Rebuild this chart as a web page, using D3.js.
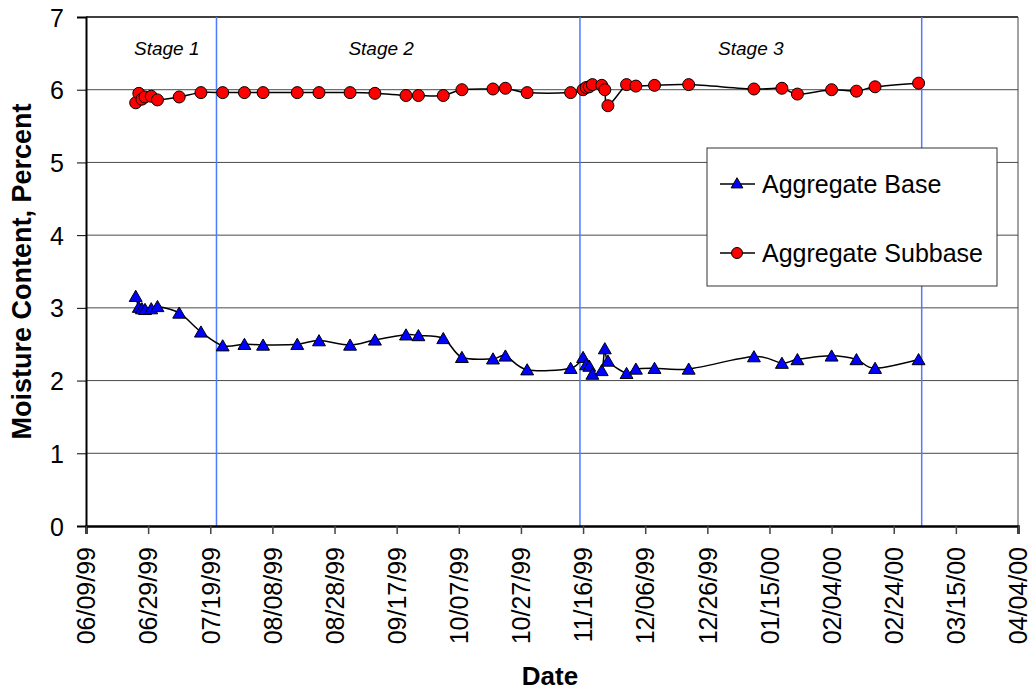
<!DOCTYPE html>
<html>
<head>
<meta charset="utf-8">
<script src="https://cdn.jsdelivr.net/npm/d3@7"></script>
<style>
  body { margin: 0; background: #fff; }
  svg { font-family: "Liberation Sans", Arial, sans-serif; }
</style>
</head>
<body>
<div id="chart"></div>
<script>
// Moisture content of base / subbase layers over three construction stages
const sampleDates = [
  "06/25/99", "06/26/99", "06/27/99", "06/28/99", "06/30/99", "07/02/99", "07/09/99", "07/16/99",
  "07/23/99", "07/30/99", "08/05/99", "08/16/99", "08/23/99", "09/02/99", "09/10/99", "09/20/99",
  "09/24/99", "10/02/99", "10/08/99", "10/18/99", "10/22/99", "10/29/99", "11/12/99", "11/16/99",
  "11/17/99", "11/18/99", "11/19/99", "11/22/99", "11/23/99", "11/24/99", "11/30/99", "12/03/99",
  "12/09/99", "12/20/99", "01/10/00", "01/19/00", "01/24/00", "02/04/00", "02/12/00", "02/18/00",
  "03/03/00"
];
const baseValues = [
  3.16, 3.01, 2.99, 2.98, 2.99, 3.02, 2.93, 2.67, 2.48, 2.50, 2.49, 2.50, 2.55, 2.49, 2.56, 2.63,
  2.62, 2.58, 2.32, 2.30, 2.34, 2.15, 2.17, 2.32, 2.22, 2.20, 2.09, 2.14, 2.44, 2.27, 2.10, 2.16,
  2.17, 2.16, 2.33, 2.24, 2.29, 2.34, 2.29, 2.17, 2.29
];
const subbaseValues = [
  5.82, 5.95, 5.87, 5.90, 5.91, 5.86, 5.90, 5.96, 5.96, 5.96, 5.96, 5.96, 5.96, 5.96, 5.95, 5.92,
  5.92, 5.92, 6.00, 6.01, 6.02, 5.96, 5.96, 6.00, 6.03, 6.04, 6.07, 6.06, 6.00, 5.78, 6.07, 6.05,
  6.06, 6.07, 6.01, 6.02, 5.94, 6.00, 5.98, 6.04, 6.09
];
const seriesNames = ["Aggregate Base", "Aggregate Subbase"];
const stageBoundaries = ["07/21/99", "11/15/99", "03/04/00"];
const stageLabels = ["Stage 1", "Stage 2", "Stage 3"];
const stageLabelDates = ["07/05/99", "09/12/99", "01/09/00"];
const xTickLabels = [
  "06/09/99", "06/29/99", "07/19/99", "08/08/99", "08/28/99", "09/17/99", "10/07/99",
  "10/27/99", "11/16/99", "12/06/99", "12/26/99", "01/15/00", "02/04/00", "02/24/00",
  "03/15/00", "04/04/00"
];
const yTicks = [0, 1, 2, 3, 4, 5, 6, 7];

const W = 1029, H = 691;
const margin = { top: 17, right: 11, bottom: 165, left: 86 };
const width = W - margin.left - margin.right;
const height = H - margin.top - margin.bottom;

const parse = d3.timeParse("%m/%d/%y");

const svg = d3.select("#chart").append("svg")
  .attr("width", W)
  .attr("height", H);

const g = svg.append("g")
  .attr("transform", `translate(${margin.left},${margin.top})`);

const x = d3.scaleTime()
  .domain([parse(xTickLabels[0]), parse(xTickLabels[xTickLabels.length - 1])])
  .range([0, width]);

const y = d3.scaleLinear()
  .domain([0, 7])
  .range([height, 0]);

// horizontal gridlines
g.selectAll(".grid")
  .data(yTicks.slice(1, -1))
  .join("line")
  .attr("x1", 0)
  .attr("x2", width)
  .attr("y1", d => y(d))
  .attr("y2", d => y(d))
  .attr("stroke", "#4a4a4a")
  .attr("stroke-width", 1);

// plot frame: top + right
g.append("line")
  .attr("x1", 0).attr("x2", width)
  .attr("y1", y(7)).attr("y2", y(7))
  .attr("stroke", "#000").attr("stroke-width", 1.5);
g.append("line")
  .attr("x1", width).attr("x2", width)
  .attr("y1", 0).attr("y2", height)
  .attr("stroke", "#444").attr("stroke-width", 1);

// stage boundaries
g.selectAll(".stage-line")
  .data(stageBoundaries)
  .join("line")
  .attr("x1", d => x(parse(d)))
  .attr("x2", d => x(parse(d)))
  .attr("y1", 0)
  .attr("y2", height)
  .attr("stroke", "#4d7bff")
  .attr("stroke-width", 1.5);

g.selectAll(".stage-label")
  .data(stageLabels)
  .join("text")
  .attr("x", (d, i) => x(parse(stageLabelDates[i])))
  .attr("y", 38)
  .attr("text-anchor", "middle")
  .style("font-size", "19px")
  .style("font-style", "italic")
  .text(d => d);

// axes
const yAxis = g.append("g")
  .call(d3.axisLeft(y).tickValues(yTicks).tickSize(9).tickPadding(13).tickFormat(d3.format("d")));
yAxis.select(".domain").attr("stroke-width", 2);
yAxis.selectAll("text").style("font-size", "25px").attr("dy", "0.36em");

const xAxis = g.append("g")
  .attr("transform", `translate(0,${height})`)
  .call(d3.axisBottom(x).tickValues(xTickLabels.map(parse)).tickSize(8).tickFormat(d3.timeFormat("%m/%d/%y")));
xAxis.select(".domain").attr("stroke-width", 2.5);
xAxis.selectAll(".tick line").attr("stroke", "#444").attr("stroke-width", 1.5);
xAxis.selectAll("text")
  .style("font-size", "25px")
  .style("text-anchor", "end")
  .attr("transform", "rotate(-90)")
  .attr("x", -21)
  .attr("y", 0)
  .attr("dy", "0.35em");

// axis titles
svg.append("text")
  .attr("x", 550)
  .attr("y", 685)
  .attr("text-anchor", "middle")
  .style("font-size", "26px")
  .style("font-weight", "bold")
  .text("Date");

svg.append("text")
  .attr("transform", `translate(31,${margin.top + y(3.5)}) rotate(-90)`)
  .attr("text-anchor", "middle")
  .style("font-size", "27px")
  .style("font-weight", "bold")
  .text("Moisture Content, Percent");

// series
const line = d3.line()
  .x(d => x(d.date))
  .y(d => y(d.value))
  .curve(d3.curveCatmullRom.alpha(0));

const baseData = sampleDates.map((d, i) => ({ date: parse(d), value: baseValues[i] }));
const subData = sampleDates.map((d, i) => ({ date: parse(d), value: subbaseValues[i] }));

[baseData, subData].forEach(data => {
  g.append("path")
    .datum(data)
    .attr("d", line)
    .attr("fill", "none")
    .attr("stroke", "#000")
    .attr("stroke-width", 1.5);
});

// d3's triangle is centred on its centroid; nudge down so the box is centred like Excel's
const tri = d3.symbol().type(d3.symbolTriangle).size(72);

g.selectAll(".base-pt")
  .data(baseData)
  .join("path")
  .attr("d", tri)
  .attr("transform", d => `translate(${x(d.date)},${y(d.value) + 1.5})`)
  .attr("fill", "#0000ff")
  .attr("stroke", "#000")
  .attr("stroke-width", 1);

g.selectAll(".sub-pt")
  .data(subData)
  .join("circle")
  .attr("cx", d => x(d.date))
  .attr("cy", d => y(d.value))
  .attr("r", 6)
  .attr("fill", "#ff0000")
  .attr("stroke", "#000")
  .attr("stroke-width", 1);

// legend
const legend = svg.append("g").attr("transform", "translate(707,148)");
legend.append("rect")
  .attr("width", 290)
  .attr("height", 138)
  .attr("fill", "#fff")
  .attr("stroke", "#333")
  .attr("stroke-width", 1);

seriesNames.forEach((name, i) => {
  const row = legend.append("g").attr("transform", `translate(0,${36 + i * 69})`);
  row.append("line")
    .attr("x1", 13).attr("x2", 48)
    .attr("stroke", "#000").attr("stroke-width", 1.5);
  if (i === 0) {
    row.append("path")
      .attr("d", d3.symbol().type(d3.symbolTriangle).size(60))
      .attr("transform", "translate(30,0.5)")
      .attr("fill", "#0000ff").attr("stroke", "#000");
  } else {
    row.append("circle")
      .attr("cx", 30).attr("r", 5.5)
      .attr("fill", "#ff0000").attr("stroke", "#000");
  }
  row.append("text")
    .attr("x", 55)
    .attr("dy", "0.36em")
    .style("font-size", "25px")
    .text(name);
});
</script>
</body>
</html>
